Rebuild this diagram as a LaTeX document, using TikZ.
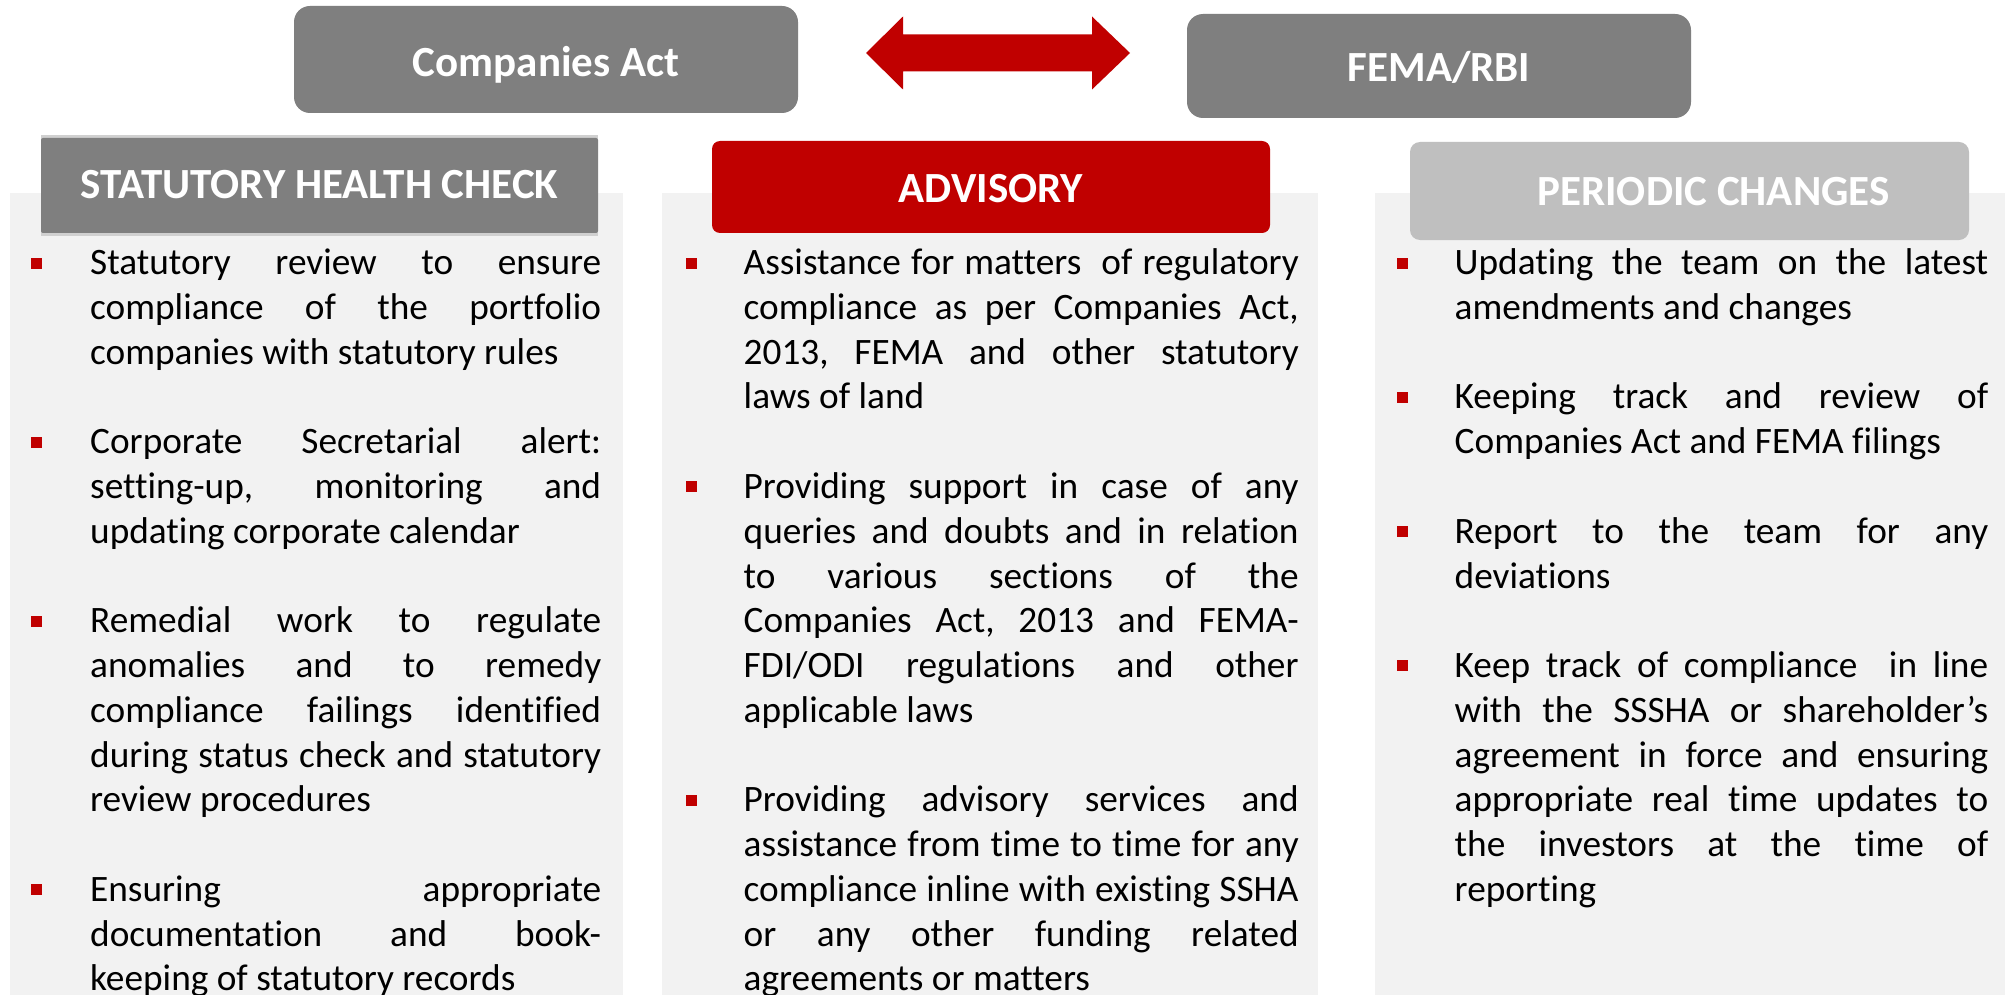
\documentclass[tikz,border=0pt]{standalone}
\usepackage{fontspec}
\setmainfont{Carlito}[Ligatures={NoCommon}]
\definecolor{boxgray}{HTML}{7F7F7F}
\definecolor{accred}{HTML}{C00000}
\definecolor{softgray}{HTML}{BFBFBF}
\definecolor{panel}{HTML}{F2F2F2}
\definecolor{shadowgray}{HTML}{D0D0D0}
\newcommand{\bodyfont}{\fontsize{37.3}{44.76}\selectfont\frenchspacing}
\newcommand{\headfont}{\fontsize{43}{50}\selectfont\bfseries}
\newcommand{\jl}[1]{\hbox to \hsize{\strut#1}}
\newcommand{\lastl}[1]{\hbox{\strut#1}}
\newcommand{\para}[2]{\vbox{\hsize=#1\relax #2}}
\begin{document}
\begin{tikzpicture}[x=1pt,y=-1pt,
  topbox/.style={rectangle, rounded corners=16pt, fill=boxgray, text=white, font=\headfont, inner sep=0pt},
  headbox/.style={rectangle, text=white, font=\headfont, inner sep=0pt},
  body/.style={anchor=north west, inner sep=0pt, font=\bodyfont, text=black},
  bullet/.style={rectangle, fill=accred, minimum size=11pt, inner sep=0pt}]
\def\bA{274.5}
\def\pt{44.76}
\def\st{31.33}
\useasboundingbox (0,0) rectangle (2005,995);
\fill[white] (0,0) rectangle (2005,995);
% panels
\fill[panel] (10,193) rectangle (623,995);
\fill[panel] (662,193) rectangle (1318,995);
\fill[panel] (1375,193) rectangle (2005,995);
% top boxes
\node[topbox, minimum width=504pt, minimum height=107pt, text height=34pt, text depth=0pt] (ca) at (546,59.5) {Companies Act};
\node[topbox, minimum width=504pt, minimum height=104pt, text height=31pt, text depth=0pt] (fema) at (1439,66) {FEMA/RBI};
% double arrow
\fill[accred] (866,53) -- (903,16.5) -- (903,34.5) -- (1092,34.5) -- (1092,16.5) -- (1130,53)
  -- (1092,89.5) -- (1092,71.5) -- (903,71.5) -- (903,89.5) -- cycle;
% headers
\fill[shadowgray] (41,135) rectangle (598,236);
\node[headbox, fill=boxgray, rounded corners=2pt, minimum width=557pt, minimum height=95pt, text height=26pt, text depth=0pt] (shc) at (319.5,185.5) {STATUTORY HEALTH CHECK};
\node[headbox, fill=accred, rounded corners=8pt, minimum width=558pt, minimum height=92pt, text height=31pt, text depth=0pt] (adv) at (991,187) {ADVISORY};
\node[headbox, fill=softgray, rounded corners=10pt, minimum width=559pt, minimum height=98pt, text height=29pt, text depth=0pt] (pc) at (1689.5,191) {\hspace*{48pt}PERIODIC CHANGES};
% left column
\node[bullet] (lb1) at (36.5,\bA-11.5) {};
\node[body] (lt1) at (90,\bA-\st) {\para{511pt}{%
\jl{Statutory review to ensure}
\jl{compliance of the portfolio}
\lastl{companies with statutory rules}}};
\node[bullet] (lb2) at (36.5,\bA+\pt*4-11.5) {};
\node[body] (lt2) at (90,\bA+\pt*4-\st) {\para{511pt}{%
\jl{Corporate Secretarial alert:}
\jl{setting-up, monitoring and}
\lastl{updating corporate calendar}}};
\node[bullet] (lb3) at (36.5,\bA+\pt*8-11.5) {};
\node[body] (lt3) at (90,\bA+\pt*8-\st) {\para{511pt}{%
\jl{Remedial work to regulate}
\jl{anomalies and to remedy}
\jl{compliance failings identified}
\jl{during status check and statutory}
\lastl{review procedures}}};
\node[bullet] (lb4) at (36.5,\bA+\pt*14-11.5) {};
\node[body] (lt4) at (90,\bA+\pt*14-\st) {\para{511pt}{%
\jl{Ensuring appropriate}
\jl{documentation and book-}
\lastl{keeping of statutory records}}};
% middle column
\node[bullet] (mb1) at (691.5,\bA-11.5) {};
\node[body] (mt1) at (743.5,\bA-\st) {\para{555pt}{%
\jl{Assistance for matters\ \ of regulatory}
\jl{compliance as per Companies Act,}
\jl{2013, FEMA and other statutory}
\lastl{laws of land}}};
\node[bullet] (mb2) at (691.5,\bA+\pt*5-11.5) {};
\node[body] (mt2) at (743.5,\bA+\pt*5-\st) {\para{555pt}{%
\jl{Providing support in case of any}
\jl{queries and doubts and in relation}
\jl{to various sections of the}
\jl{Companies Act, 2013 and FEMA-}
\jl{FDI/ODI regulations and other}
\lastl{applicable laws}}};
\node[bullet] (mb3) at (691.5,\bA+\pt*12-11.5) {};
\node[body] (mt3) at (743.5,\bA+\pt*12-\st) {\para{555pt}{%
\jl{Providing advisory services and}
\jl{assistance from time to time for any}
\jl{compliance inline with existing SSHA}
\jl{or any other funding related}
\lastl{agreements or matters}}};
% right column
\node[bullet] (rb1) at (1402.5,\bA-11.5) {};
\node[body] (rt1) at (1454.5,\bA-\st) {\para{533.5pt}{%
\jl{Updating the team on the latest}
\lastl{amendments and changes}}};
\node[bullet] (rb2) at (1402.5,\bA+\pt*3-11.5) {};
\node[body] (rt2) at (1454.5,\bA+\pt*3-\st) {\para{533.5pt}{%
\jl{Keeping track and review of}
\lastl{Companies Act and FEMA filings}}};
\node[bullet] (rb3) at (1402.5,\bA+\pt*6-11.5) {};
\node[body] (rt3) at (1454.5,\bA+\pt*6-\st) {\para{533.5pt}{%
\jl{Report to the team for any}
\lastl{deviations}}};
\node[bullet] (rb4) at (1402.5,\bA+\pt*9-11.5) {};
\node[body] (rt4) at (1454.5,\bA+\pt*9-\st) {\para{533.5pt}{%
\jl{Keep track of compliance\ \ in line}
\jl{with the SSSHA or shareholder’s}
\jl{agreement in force and ensuring}
\jl{appropriate real time updates to}
\jl{the investors at the time of}
\lastl{reporting}}};
\end{tikzpicture}
\end{document}
